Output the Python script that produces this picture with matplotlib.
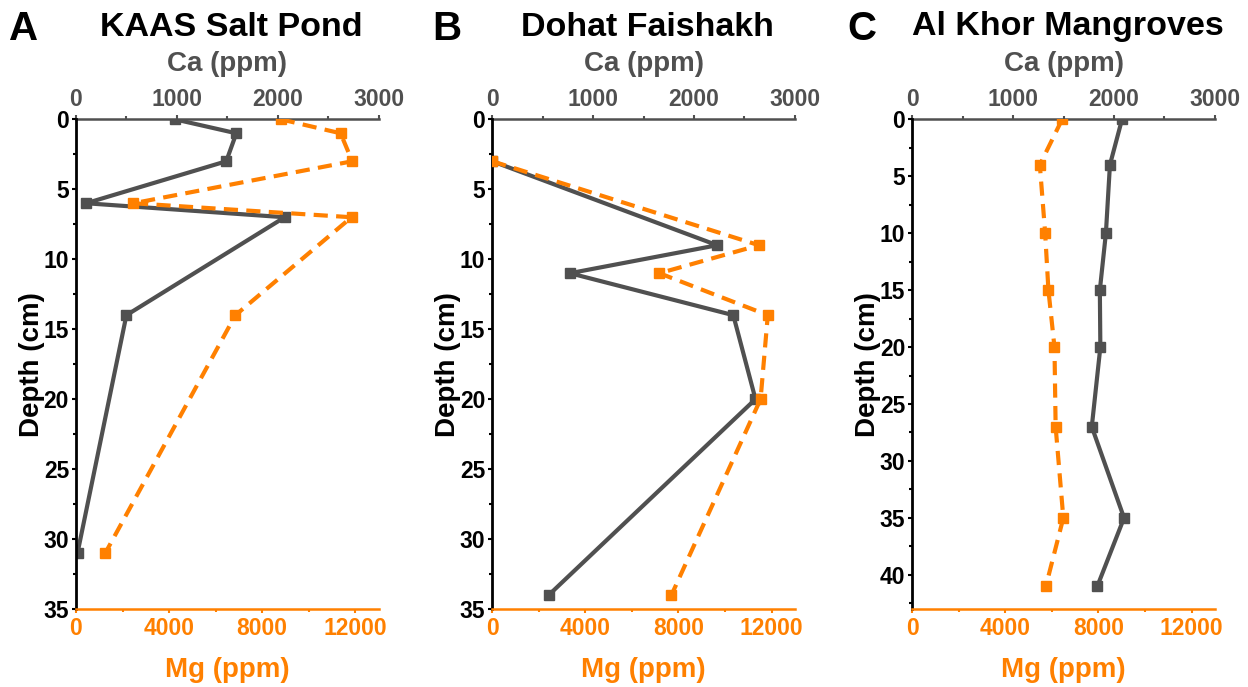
import matplotlib
matplotlib.use("Agg")
import matplotlib.pyplot as plt
from matplotlib.ticker import MultipleLocator

plt.rcParams['font.family'] = ['Liberation Sans', 'DejaVu Sans']
plt.rcParams['font.weight'] = 'bold'

# ---- data ----
titles = ["KAAS Salt Pond", "Dohat Faishakh", "Al Khor Mangroves"]
letters = ["A", "B", "C"]

depth_a = [0, 1, 3, 6, 7, 14, 31]
ca_a = [980, 1590, 1490, 100, 2070, 500, 15]
mg_a = [8800, 11370, 11870, 2470, 11840, 6850, 1260]

depth_b = [3, 9, 11, 14, 20, 34]
ca_b = [0, 2230, 770, 2390, 2610, 560]
mg_b = [0, 11460, 7180, 11840, 11530, 7700]

depth_c = [0, 4, 10, 15, 20, 27, 35, 41]
ca_c = [2080, 1960, 1920, 1860, 1865, 1780, 2100, 1835]
mg_c = [6440, 5480, 5710, 5850, 6110, 6160, 6490, 5740]

depths = [depth_a, depth_b, depth_c]
cas = [ca_a, ca_b, ca_c]
mgs = [mg_a, mg_b, mg_c]
ymax = [35, 35, 43]
ymajor = [5, 5, 5]

ca_ticks = [0, 1000, 2000, 3000]
mg_ticks = [0, 4000, 8000, 12000]

GRAY = '#505050'
ORANGE = '#FF8000'

W, H = 1248, 687
fig = plt.figure(figsize=(W / 100, H / 100), dpi=100)

lefts = [76, 492.3, 912.3]
aw = 302.5
top, bottom = 119.3, 609

for i in range(3):
    l = lefts[i]
    ax = fig.add_axes([l / W, 1 - bottom / H, aw / W, (bottom - top) / H])
    ax2 = ax.twiny()

    # Mg on bottom axis (orange, dashed)
    ax.plot(mgs[i], depths[i], ls=(0, (3.4, 2.0)), color=ORANGE, lw=3,
            marker='s', ms=7.5, zorder=3, clip_on=True)
    # Ca on top axis (gray, solid)
    ax2.plot(cas[i], depths[i], ls='-', color=GRAY, lw=3,
             marker='s', ms=7.5, zorder=3, clip_on=True)

    ax.set_xlim(0, 13000)
    ax2.set_xlim(0, 3000)
    ax.set_ylim(ymax[i], 0)

    ax.set_xticks(mg_ticks)
    ax.xaxis.set_minor_locator(MultipleLocator(2000))
    ax2.set_xticks(ca_ticks)
    ax2.xaxis.set_minor_locator(MultipleLocator(500))
    ax.yaxis.set_major_locator(MultipleLocator(ymajor[i]))
    ax.yaxis.set_minor_locator(MultipleLocator(2.5))

    for a in (ax, ax2):
        a.spines['right'].set_visible(False)
    ax.spines['top'].set_visible(False)
    ax2.spines['bottom'].set_visible(False)
    ax2.spines['left'].set_visible(False)

    ax.spines['left'].set_color('black')
    ax.spines['left'].set_linewidth(2)
    ax.spines['bottom'].set_color(ORANGE)
    ax.spines['bottom'].set_linewidth(1.8)
    ax2.spines['top'].set_color(GRAY)
    ax2.spines['top'].set_linewidth(1.8)

    ax.tick_params(axis='x', which='both', colors=ORANGE, labelsize=16.5,
                   direction='out', length=3, width=1.5, pad=3)
    ax.tick_params(axis='x', which='minor', length=2)
    ax.tick_params(axis='y', which='both', colors='black', labelsize=16.5,
                   direction='out', length=3, width=1.5, pad=2)
    ax.tick_params(axis='y', which='minor', length=2)
    ax2.tick_params(axis='x', which='both', colors=GRAY, labelsize=16.5,
                    direction='out', length=3, width=1.5, pad=3)
    ax2.tick_params(axis='x', which='minor', length=2)

    for lab in ax.get_xticklabels() + ax.get_yticklabels() + ax2.get_xticklabels():
        lab.set_fontweight('bold')

    ax.set_xlabel('Mg (ppm)', color=ORANGE, fontsize=20, fontweight='bold', labelpad=12)
    ax2.set_xlabel('Ca (ppm)', color=GRAY, fontsize=20, fontweight='bold', labelpad=12)
    ax.set_ylabel('Depth (cm)', color='black', fontsize=20, fontweight='bold', labelpad=-1)

    ax.set_zorder(ax2.get_zorder() + 1)
    ax.patch.set_visible(False)

    cx = (l + aw / 2 + 4) / W
    fig.text(cx, 1 - 27 / H, titles[i], ha='center', va='center',
             fontsize=24.5, fontweight='bold', color='black')

letter_x = [9, 432, 847]
for i in range(3):
    fig.text(letter_x[i] / W, 1 - 29 / H, letters[i], ha='left', va='center',
             fontsize=29, fontweight='bold', color='black')

fig.savefig('out.png', dpi=100)
